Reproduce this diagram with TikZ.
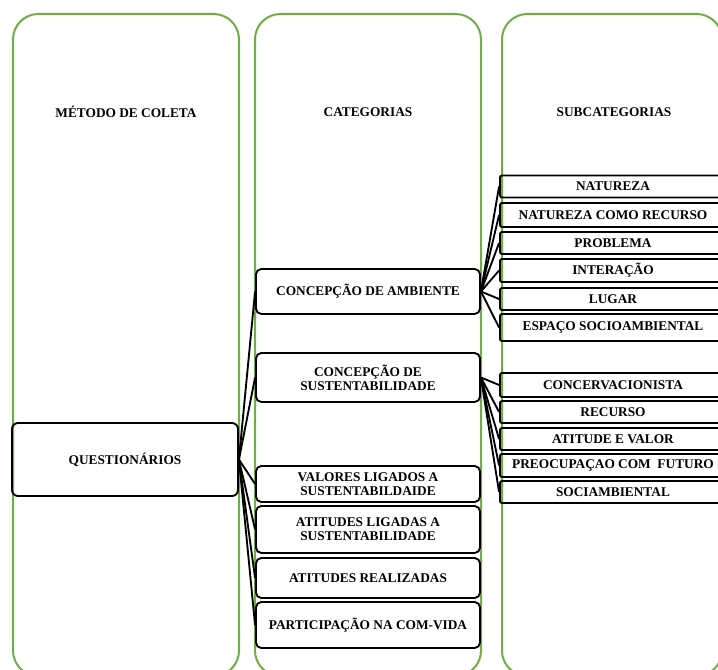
\documentclass[tikz,border=0pt]{standalone}
\usepackage{fontspec}
\setmainfont{Liberation Serif}
\definecolor{colgreen}{RGB}{112,173,71}

\begin{document}
\begin{tikzpicture}[x=0.75pt,y=0.75pt,yscale=-1,xscale=1,
  every node/.style={font=\bfseries\fontsize{10}{10.5}\selectfont, align=center},
  colbox/.style={draw=colgreen, line width=1.5pt, rounded corners=19pt},
  title/.style={inner sep=1pt},
  questbox/.style={draw, line width=1.4pt, rounded corners=4.5pt, minimum width=169.5pt, minimum height=54.75pt},
  catbox/.style={draw, line width=1.4pt, rounded corners=4pt, minimum width=168pt, inner sep=1pt},
  subbox/.style={draw, line width=1.4pt, rounded corners=1.5pt, minimum width=169.5pt, minimum height=16.5pt, inner sep=1pt},
  link/.style={line width=1.4pt}]
\useasboundingbox (0,0) rectangle (718,670);
\clip (0,0) rectangle (718,670);

%Shape: Columns
\draw [colbox] (13,14) rectangle (239,676);
\draw [colbox] (255,14) rectangle (481,676);
\draw [colbox] (502,14) rectangle (722,676);

% Text Node
\node [title] (tmet) at (126,112) {MÉTODO DE COLETA};
\node [title] (tcat) at (368,112) {CATEGORIAS};
\node [title] (tsub) at (614,112) {SUBCATEGORIAS};

%Shape: Method
\node [questbox] (quest) at (125,459.5) {QUESTIONÁRIOS};

%Shape: Categories
\node [catbox, minimum height=33.75pt] (amb) at (368,291.5) {CONCEPÇÃO DE AMBIENTE};
\node [catbox, minimum height=36.75pt] (sust) at (368,377.5) {CONCEPÇÃO DE\\SUSTENTABILIDADE};
\node [catbox, minimum height=27pt] (val) at (368,484) {VALORES LIGADOS A\\SUSTENTABILDAIDE};
\node [catbox, minimum height=35.25pt] (atl) at (368,529.5) {ATITUDES LIGADAS A\\SUSTENTABILIDADE};
\node [catbox, minimum height=30pt] (atr) at (368,578) {ATITUDES REALIZADAS};
\node [catbox, minimum height=34.5pt] (part) at (368,625) {PARTICIPAÇÃO NA COM-VIDA};

%Shape: Subcategories of ambiente
\node [subbox] (nat) at (613,186.5) {NATUREZA};
\node [subbox, minimum height=18pt] (natrec) at (613,215) {NATUREZA COMO RECURSO};
\node [subbox] (prob) at (613,243) {PROBLEMA};
\node [subbox, minimum height=17.25pt] (inter) at (613,270.5) {INTERAÇÃO};
\node [subbox] (lugar) at (613,299) {LUGAR};
\node [subbox, minimum height=20.25pt] (esp) at (613,327.5) {ESPAÇO SOCIOAMBIENTAL};

%Shape: Subcategories of sustentabilidade
\node [subbox, minimum height=18pt] (conc) at (613,385) {CONCERVACIONISTA};
\node [subbox] (rec) at (613,412) {RECURSO};
\node [subbox] (atv) at (613,439) {ATITUDE E VALOR};
\node [subbox, minimum height=17.25pt] (preo) at (613,465.5) {PREOCUPAÇAO COM~~FUTURO};
\node [subbox] (soc) at (613,492) {SOCIAMBIENTAL};

%Straight Lines
\foreach \c in {amb,sust,val,atl,atr,part}
  \draw [link] (quest.east) -- (\c.west);
\foreach \s in {nat,natrec,prob,inter,lugar,esp}
  \draw [link] (amb.east) -- (\s.west);
\foreach \s in {conc,rec,atv,preo,soc}
  \draw [link] (sust.east) -- (\s.west);

\end{tikzpicture}
\end{document}
